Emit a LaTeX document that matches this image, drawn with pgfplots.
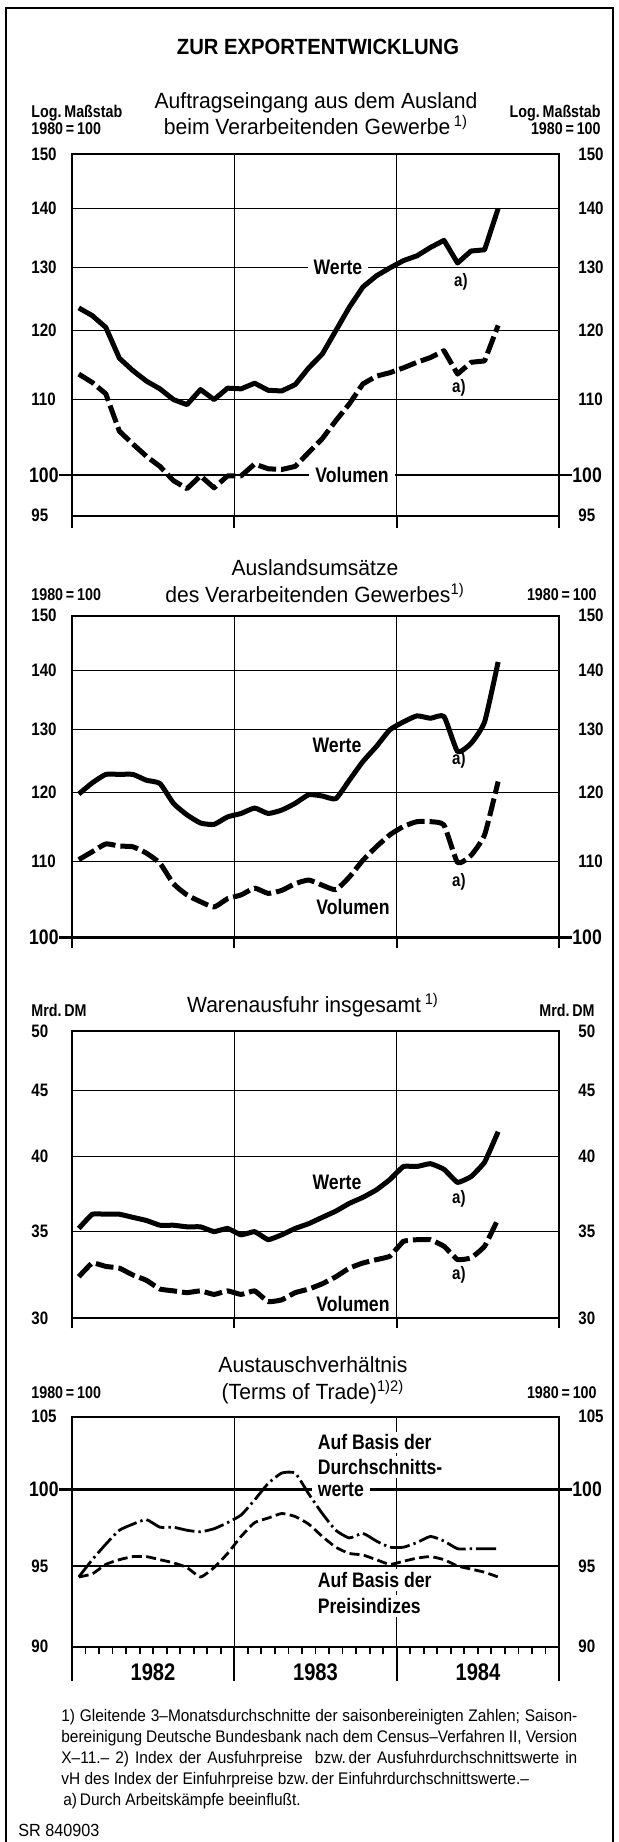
\documentclass[border=0pt]{standalone}
\usepackage{fontspec}
\setmainfont{Liberation Sans}[FakeStretch=0.84]
\newfontfamily\widefont{Liberation Sans}[FakeStretch=0.92, Ligatures=TeX]
\newfontfamily\subfont{Liberation Sans}[FakeStretch=0.96, Ligatures=TeX]
\usepackage{pgfplots}
\usepackage{pgfplotstable}
\pgfplotsset{compat=1.18}

\pgfplotstableread{
x w v
0.5 123.5 113.6
1.5 122.3 112.4
2.5 120.5 110.8
3.5 115.9 105.7
4.5 114.1 104.0
5.5 112.6 102.4
6.5 111.5 101.1
7.5 110.0 99.3
8.5 109.3 98.3
9.5 111.4 99.9
10.5 110.0 98.4
11.5 111.6 99.9
12.5 111.5 99.9
13.5 112.3 101.4
14.5 111.3 100.8
15.5 111.2 100.7
16.5 112.1 101.1
17.5 114.5 102.9
18.5 116.5 104.7
19.5 120.0 107.1
20.5 123.6 109.4
21.5 126.8 112.2
22.5 128.6 113.3
23.5 129.9 113.8
24.5 131.1 114.5
25.5 131.9 115.3
26.5 133.3 116.0
27.5 134.5 117.0
28.5 130.7 113.6
29.5 132.7 115.3
30.5 132.9 115.5
31.5 140.0 120.8
}\dataA

\pgfplotstableread{
x w v
0.5 119.8 110.3
1.5 121.5 111.4
2.5 122.8 112.5
3.5 122.8 112.2
4.5 122.8 112.1
5.5 121.9 111.2
6.5 121.4 109.8
7.5 118.4 107.0
8.5 116.7 105.5
9.5 115.5 104.6
10.5 115.3 103.9
11.5 116.4 105.0
12.5 116.9 105.5
13.5 117.7 106.4
14.5 116.9 105.7
15.5 117.4 106.1
16.5 118.4 107.0
17.5 119.7 107.5
18.5 119.5 106.8
19.5 119.1 106.2
20.5 121.9 107.9
21.5 124.8 110.2
22.5 127.2 112.1
23.5 129.9 113.8
24.5 131.2 115.0
25.5 132.2 115.7
26.5 131.8 115.7
27.5 132.1 115.2
28.5 126.4 109.9
29.5 127.7 110.9
30.5 131.2 113.8
31.5 141.5 121.7
}\dataB

\pgfplotstableread{
x w v
0.5 35.2 32.3
1.5 36.1 33.1
2.5 36.1 32.9
3.5 36.1 32.8
4.5 35.9 32.4
5.5 35.7 32.1
6.5 35.4 31.6
7.5 35.4 31.5
8.5 35.3 31.4
9.5 35.3 31.5
10.5 35.0 31.3
11.5 35.2 31.5
12.5 34.8 31.3
13.5 35.0 31.5
14.5 34.5 30.9
15.5 34.8 31.0
16.5 35.2 31.4
17.5 35.5 31.6
18.5 35.9 31.9
19.5 36.3 32.3
20.5 36.8 32.8
21.5 37.2 33.1
22.5 37.7 33.3
23.5 38.4 33.5
24.5 39.3 34.4
25.5 39.3 34.5
26.5 39.5 34.5
27.5 39.1 34.1
28.5 38.2 33.3
29.5 38.6 33.4
30.5 39.6 34.1
31.5 41.8 35.8
}\dataC

\pgfplotstableread{
x dw pi
0.5 94.3 94.3
1.5 95.4 94.5
2.5 96.4 95.1
3.5 97.3 95.4
4.5 97.7 95.6
5.5 98.0 95.6
6.5 97.5 95.4
7.5 97.5 95.2
8.5 97.3 94.9
9.5 97.2 94.3
10.5 97.4 94.9
11.5 97.8 95.8
12.5 98.3 96.9
13.5 99.3 97.8
14.5 100.4 98.1
15.5 101.1 98.4
16.5 101.1 98.2
17.5 99.7 97.7
18.5 98.4 96.9
19.5 97.3 96.2
20.5 96.8 95.8
21.5 97.1 95.7
22.5 96.6 95.4
23.5 96.2 95.1
24.5 96.2 95.3
25.5 96.5 95.5
26.5 96.9 95.6
27.5 96.6 95.4
28.5 96.1 95.0
29.5 96.1 94.8
30.5 96.1 94.6
31.5 96.1 94.3
}\dataD

\newcommand{\tickfont}{\bfseries\fontsize{9}{10}\selectfont}
\newcommand{\ylab}[1]{%
  \node[anchor=west,inner sep=0pt,font=\tickfont] at ([xshift=-20.5pt]axis cs:0,#1) {#1};
  \node[anchor=west,inner sep=0pt,font=\tickfont] at ([xshift=9.5pt]axis cs:36,#1) {#1};}
\newcommand{\yhundred}{%
  \draw[line width=1.3pt] ([xshift=-6.5pt]axis cs:0,100) -- ([xshift=6.5pt]axis cs:36,100);
  \node[anchor=east,inner sep=0pt,font=\bfseries\fontsize{10.5}{11}\selectfont] at ([xshift=-6.5pt]axis cs:0,100) {100};
  \node[anchor=west,inner sep=0pt,font=\bfseries\fontsize{10.5}{11}\selectfont] at ([xshift=6.5pt]axis cs:36,100) {100};}

\tikzset{
  explab/.style={font=\bfseries\fontsize{10.5}{11}\selectfont, inner xsep=3pt, inner ysep=0.5pt},
  expa/.style={font=\bfseries\fontsize{9}{10}\selectfont, inner sep=1pt},
  hdr/.style={inner sep=0pt, font=\bfseries\fontsize{8.5}{9}\selectfont},
  sub/.style={font=\subfont\fontsize{11}{13}\selectfont},
}
\pgfplotsset{
  exppanel/.style={scale only axis, width=243.5pt, xmin=0, xmax=36,
    xtick={0,12,24,36}, xticklabels={}, yticklabels={},
    grid=major, major grid style={line width=0.6pt, black},
    axis line style={line width=0.9pt}, tick align=outside, xtick pos=left,
    ytick style={draw=none}, xtick style={line width=0.9pt, black},
    clip=false, anchor=north west},
  expwerte/.style={line width=2.5pt, black, line join=round, line cap=butt},
  expvol/.style={line width=2.5pt, black, line join=round, dash pattern=on 9pt off 2.5pt},
}

\begin{document}
\begin{tikzpicture}
\path[use as bounding box] (0,0) rectangle (309pt,-921pt);
\draw[line width=1.3pt] (3pt,-921pt) -- (3pt,-4pt) -- (306.5pt,-4pt) -- (306.5pt,-921pt);

% titles and headers
\node[font=\widefont\bfseries\fontsize{11}{13}\selectfont] at (159pt,-23.5pt) {ZUR EXPORTENTWICKLUNG};
\node[sub] at (158pt,-51.5pt) {Auftragseingang aus dem Ausland};
\node[sub] at (158pt,-62.5pt) {beim Verarbeitenden Gewerbe\,\textsuperscript{1)}};
\node[hdr, anchor=west] at (15.5pt,-56.5pt) {Log.\,Maßstab};
\node[hdr, anchor=west] at (15.5pt,-64.5pt) {1980\,=\,100};
\node[hdr, anchor=east] at (300.5pt,-56.5pt) {Log.\,Maßstab};
\node[hdr, anchor=east] at (300.5pt,-64.5pt) {1980\,=\,100};

\node[sub] at (157.5pt,-284pt) {Auslandsumsätze};
\node[sub] at (157.5pt,-296.5pt) {des Verarbeitenden Gewerbes\textsuperscript{1)}};
\node[hdr, anchor=west] at (15.5pt,-297.5pt) {1980\,=\,100};
\node[hdr, anchor=east] at (298.5pt,-297.5pt) {1980\,=\,100};

\node[sub] at (156.5pt,-502.5pt) {Warenausfuhr insgesamt\,\textsuperscript{1)}};
\node[hdr, anchor=west] at (15.5pt,-505pt) {Mrd.\,DM};
\node[hdr, anchor=east] at (297.5pt,-505pt) {Mrd.\,DM};

\node[sub] at (156.5pt,-682.5pt) {Austauschverhältnis};
\node[sub] at (156.5pt,-696pt) {(Terms of Trade)\textsuperscript{1)2)}};
\node[hdr, anchor=west] at (15.5pt,-696.5pt) {1980\,=\,100};
\node[hdr, anchor=east] at (298.5pt,-696.5pt) {1980\,=\,100};

% Panel 1
\begin{axis}[exppanel, ymode=log, at={(36pt,-77pt)}, height=180.85pt, ymin=95, ymax=150,
  ytick={95,100,110,120,130,140,150}, major tick length=6pt]
  \ylab{95}\ylab{110}\ylab{120}\ylab{130}\ylab{140}\ylab{150}
  \yhundred
  \node[explab, fill=white] at (axis cs:19.66,130) {Werte};
  \node[explab, fill=white] at (axis cs:20.7,100) {Volumen};
  \node[expa] at (axis cs:28.75,127.6) {a)};
  \node[expa] at (axis cs:28.6,111.6) {a)};
  \addplot[expwerte] table[x=x,y=w] {\dataA};
  \addplot[expvol] table[x=x,y=v] {\dataA};
\end{axis}

% Panel 2
\begin{axis}[exppanel, ymode=log, at={(36pt,-307.85pt)}, height=160.85pt, ymin=100, ymax=150,
  ytick={100,110,120,130,140,150}, major tick length=5.3pt]
  \ylab{110}\ylab{120}\ylab{130}\ylab{140}\ylab{150}
  \yhundred
  \node[explab] at (axis cs:19.59,127.4) {Werte};
  \node[explab] at (axis cs:20.77,103.9) {Volumen};
  \node[expa] at (axis cs:28.6,125.0) {a)};
  \node[expa] at (axis cs:28.6,107.2) {a)};
  \addplot[expwerte, smooth, tension=0.3] table[x=x,y=w] {\dataB};
  \addplot[expvol, smooth, tension=0.3] table[x=x,y=v] {\dataB};
\end{axis}

% Panel 3
\begin{axis}[exppanel, ymode=log, at={(36pt,-515.5pt)}, height=143.65pt, ymin=30, ymax=50,
  ytick={30,35,40,45,50}, major tick length=5pt]
  \ylab{30}\ylab{35}\ylab{40}\ylab{45}\ylab{50}
  \node[explab] at (axis cs:19.59,38.2) {Werte};
  \node[explab] at (axis cs:20.77,30.8) {Volumen};
  \node[expa] at (axis cs:28.6,37.1) {a)};
  \node[expa] at (axis cs:28.6,32.4) {a)};
  \addplot[expwerte, smooth, tension=0.2] table[x=x,y=w] {\dataC};
  \addplot[expvol, smooth, tension=0.2] table[x=x,y=v] {\dataC};
\end{axis}

% Panel 4
\begin{axis}[exppanel, ymode=log, at={(36pt,-708.35pt)}, height=115pt, ymin=90, ymax=105,
  ytick={90,95,100,105}, major tick length=17.5pt,
  minor x tick num=11, minor tick length=3.5pt,
  minor tick style={line width=0.7pt, black}]
  \ylab{90}\ylab{95}\ylab{105}
  \yhundred
  \node[explab, anchor=west, fill=white, inner ysep=1.6pt] at (axis cs:17.7,103.2) {Auf Basis der};
  \node[explab, anchor=west, fill=white, inner ysep=1.6pt] at (axis cs:17.7,101.5) {Durchschnitts-};
  \node[explab, anchor=west, fill=white] at (axis cs:17.7,99.96) {werte};
  \node[explab, anchor=west, fill=white, inner ysep=1.6pt] at (axis cs:17.7,94.1) {Auf Basis der};
  \node[explab, anchor=west, fill=white, inner ysep=1.6pt] at (axis cs:17.7,92.5) {Preisindizes};
  \addplot[line width=1.4pt, black, smooth, tension=0.3, dash pattern=on 10pt off 2pt on 1.2pt off 2pt] table[x=x,y=dw] {\dataD};
  \addplot[line width=1.4pt, black, smooth, tension=0.3, dash pattern=on 5pt off 2.2pt] table[x=x,y=pi] {\dataD};
\end{axis}

% years
\node[font=\bfseries\fontsize{12}{13}\selectfont] at (76.5pt,-836pt) {1982};
\node[font=\bfseries\fontsize{12}{13}\selectfont] at (157.75pt,-836pt) {1983};
\node[font=\bfseries\fontsize{12}{13}\selectfont] at (239pt,-836pt) {1984};

% footnotes
\begin{scope}[every node/.style={anchor=base west, inner sep=0pt, font=\widefont\fontsize{8.4}{10.5}\selectfont}]
\node at (30.5pt,-860.5pt) {\makebox[258pt][s]{1) Gleitende 3–Monatsdurchschnitte der saisonbereinigten Zahlen; Saison-}};
\node at (30.5pt,-871pt) {\makebox[258pt][s]{bereinigung Deutsche Bundesbank nach dem Census–Verfahren II, Version}};
\node at (30.5pt,-881.5pt) {\makebox[258pt][s]{X–11.– 2) Index der Ausfuhrpreise\ \ bzw.\,der Ausfuhrdurchschnittswerte in}};
\node at (30.5pt,-892pt) {vH des Index der Einfuhrpreise bzw.\,der Einfuhrdurchschnittswerte.–};
\node at (31.5pt,-902.5pt) {a)\,Durch Arbeitskämpfe beeinflußt.};
\end{scope}
\node[anchor=west, inner sep=0pt, font=\widefont\fontsize{8.8}{10}\selectfont] at (9pt,-915pt) {SR 840903};
\end{tikzpicture}
\end{document}
